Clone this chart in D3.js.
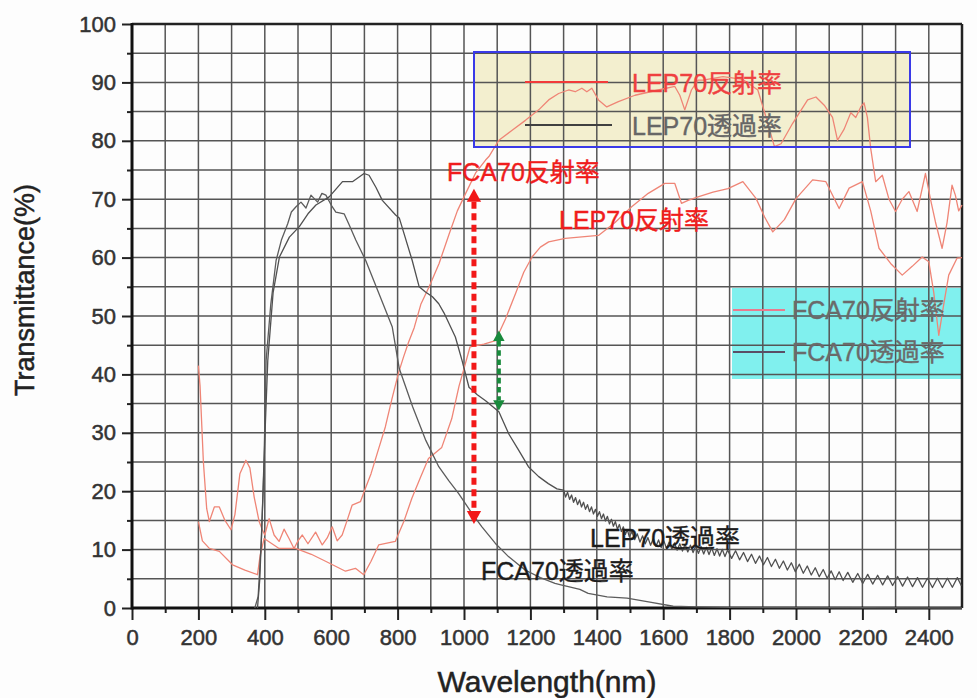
<!DOCTYPE html>
<html>
<head>
<meta charset="utf-8">
<script src="https://cdn.jsdelivr.net/npm/d3@7"></script>
<style>
  body { margin: 0; background: #fdfdfd; }
  svg text { font-family: "Liberation Sans", Arial, "Noto Sans CJK JP", sans-serif; }
</style>
</head>
<body>
<div id="chart"></div>
<script>
// tick labels
var xTickLabels = [0, 200, 400, 600, 800, 1000, 1200, 1400, 1600, 1800, 2000, 2200, 2400];
var yTickLabels = [0, 10, 20, 30, 40, 50, 60, 70, 80, 90, 100];

// series names
var seriesNames = ["LEP70反射率", "LEP70透過率", "FCA70反射率", "FCA70透過率"];

// FCA70 reflectance [nm, %]
var fcaRefl = [[200,41.5],[205,38],[215,25],[225,17],[233,14.8],[248,17.3],[263,17.3],[280,15],[298,13.4],[310,16],
  [325,23],[343,25.3],[355,24],[368,19],[383,14.8],[392,13.5],[400,12.5],[413,15.3],[428,12.5],[443,11.4],
  [458,13.5],[473,11.9],[488,10.2],[500,11.5],[513,12.5],[530,11],[553,13],[573,10.8],[588,12],[603,13.9],
  [618,11.5],[633,12.5],[648,15],[663,17.6],[688,18.2],[703,20.5],[720,23],[743,27.3],[763,31],[783,35.8],
  [803,40.3],[818,43],[833,45.5],[850,48],[870,52],[895,55],[925,59],[955,64],[980,68],[1005,71],
  [1035,74.5],[1065,76.7],[1075,77.3],[1105,80.1],[1145,81.8],[1185,83.5],[1225,85.3],[1255,87],[1285,88.1],[1315,88.7],
  [1335,88.4],[1355,89],[1370,88.4],[1385,89],[1405,87],[1430,85.8],[1465,86.7],[1515,87.8],[1585,88.7],[1635,89.3],
  [1650,87.8],[1665,85.3],[1685,88.7],[1705,90.4],[1720,90.4],[1780,91],[1840,90.5],[1885,88.7],[1910,84],[1935,79],
  [1955,79.5],[1990,83],[2035,87],[2060,87.5],[2085,86.1],[2110,84],[2125,80.1],[2145,82],[2165,84.8],[2180,84],
  [2195,85.8],[2205,86.5],[2215,84],[2225,78.7],[2240,73],[2260,74.1],[2280,70],[2300,67.9],[2320,70],[2340,71.3],
  [2365,67.9],[2390,74.4],[2405,70],[2420,66.1],[2440,61.6],[2455,66],[2470,72.4],[2480,70.7],[2490,68],[2500,69]];

// LEP70 reflectance [nm, %]
var lepRefl = [[200,14.8],[212,11.5],[233,10.2],[263,9.7],[303,7.4],[340,6.5],[378,5.7],[386,9],[398,11.9],[443,10.2],
  [493,10.2],[540,9.2],[583,8],[643,6.3],[673,6.8],[698,5.7],[720,8],[743,10.8],[793,11.4],[820,15],
  [843,18.8],[870,22.5],[893,25.6],[933,27.5],[963,32.4],[985,38],[1000,41],[1018,44.7],[1060,45.2],[1095,45.8],
  [1125,49.5],[1155,53.8],[1180,57.5],[1205,60.1],[1230,61.8],[1255,62.7],[1305,63.3],[1405,63.8],[1455,66],[1505,68.7],
  [1555,71],[1605,72.7],[1635,72.7],[1655,69.3],[1675,69.8],[1705,70.4],[1750,71.2],[1795,71.8],[1840,73],[1880,70.1],
  [1905,67],[1930,64.4],[1965,66.5],[2000,70.1],[2050,73.3],[2090,73],[2130,68.4],[2160,71.9],[2200,73],[2225,68],
  [2250,61.6],[2285,59],[2320,57],[2350,58.5],[2380,60.1],[2400,59.3],[2415,54],[2430,46.7],[2445,52],[2460,57],
  [2485,59.9],[2500,60]];

// FCA70 transmittance [nm, %]
var fcaTrans = [[370,0],[380,2],[390,12],[398,26],[404,42.4],[418,52],[434,59.5],[450,63],[469,65.8],[480,67.8],
  [494,68.7],[509,69.5],[524,68.5],[539,70.7],[559,69.5],[572,71],[584,70.7],[600,69],[614,67.8],[639,67.5],
  [655,65.5],[674,63],[704,59.5],[744,53.8],[784,48.1],[805,41],[845,34.5],[885,28.7],[924,24.2],[954,21.8],
  [984,19.6],[1024,16.2],[1054,13.9],[1094,11.1],[1134,8.8],[1184,6.5],[1230,5.2],[1274,4.2],[1289,4],[1349,3.2],
  [1374,2.5],[1431,1.9],[1491,1.7],[1560,1],[1630,0.3],[1700,0.2],[1800,0.1],[2500,0]];

// LEP70 transmittance [nm, %] (fringes)
var lepTrans = [[378,0],[385,5],[395,20],[402,32],[409,42.4],[425,54],[444,60.1],[474,63.5],[504,65.3],[530,67.5],
  [554,69],[594,70.4],[634,73],[664,73],[699,74.4],[714,74.1],[735,72],[754,69.8],[794,67.3],[805,66.8],
  [844,59.5],[865,55],[884,54.1],[905,53.3],[924,52.1],[940,50.5],[974,46.4],[994,42.4],[1015,37.8],[1040,36.5],
  [1065,35.5],[1105,33.6],[1135,29.8],[1165,27],[1194,24.2],[1225,22.5],[1254,21.3],[1280,20.4],
  [1300,20.2],[1306,19.0],[1312,19.8],[1318,18.6],[1324,19.35],[1330,18.1],[1336,18.9],[1342,17.7],[1348,18.5],[1354,17.3],
  [1360,18.1],[1366,16.9],[1372,17.7],[1378,16.5],[1384,17.3],[1390,16.1],[1396,16.9],[1402,15.7],[1408,16.5],[1414,15.3],
  [1420,16.1],[1426,14.9],[1432,15.7],[1438,14.4],[1444,15.2],[1450,14.0],[1456,14.8],[1462,13.5],[1468,14.3],[1474,13.1],
  [1480,13.9],[1486,12.6],[1492,13.4],[1498,12.2],[1506,13.05],[1514,11.7],[1522,12.7],[1530,11.3],[1538,12.35],[1546,11.0],
  [1554,12.05],[1562,10.75],[1570,11.85],[1578,10.55],[1586,11.65],[1594,10.35],[1602,11.5],[1610,10.2],[1618,11.3],[1626,10.05],
  [1634,11.15],[1642,9.9],[1650,11.0],[1658,9.75],[1666,10.9],[1674,9.6],[1682,10.75],[1690,9.5],[1698,10.6],[1706,9.35],
  [1714,10.5],[1722,9.25],[1730,10.4],[1738,9.15],[1746,10.3],[1754,9.0],[1762,10.15],[1770,8.9],[1778,10.05],[1786,8.8],
  [1794,9.95],[1806,8.5],[1818,9.8],[1830,8.25],[1842,9.5],[1854,7.95],[1866,9.2],[1878,7.65],[1890,8.9],[1902,7.4],
  [1914,8.65],[1926,7.1],[1938,8.35],[1950,6.8],[1962,8.05],[1974,6.5],[1986,7.75],[1998,6.2],[2010,7.5],[2022,5.95],
  [2034,7.2],[2046,5.65],[2058,6.9],[2070,5.35],[2082,6.6],[2094,5.1],[2106,6.35],[2118,4.85],[2130,6.2],[2142,4.7],
  [2156,6.1],[2171,4.4],[2186,5.9],[2201,4.2],[2216,5.75],[2231,4.1],[2246,5.6],[2261,3.95],[2276,5.5],[2291,3.85],
  [2306,5.4],[2321,3.75],[2336,5.3],[2351,3.65],[2366,5.2],[2381,3.55],[2396,5.1],[2411,3.5],[2426,5.1],[2441,3.5],
  [2456,5.1],[2471,3.55],[2486,5.2],[2498,3.8]];

// annotation arrows [nm, from %, to %]
var redArrow = [1030, 71.8, 14.4];
var greenArrow = [1105, 47.5, 33.8];

var width = 977;
var height = 698;

var svg = d3.select("#chart")
    .append("svg")
    .attr("width", width)
    .attr("height", height);

var x = d3.scaleLinear().domain([0, 2500]).range([132, 962]);
var y = d3.scaleLinear().domain([0, 100]).range([608, 24]);

// legend backgrounds sit under the grid
svg.append("rect").attr("x", 474).attr("y", 52).attr("width", 436).attr("height", 95)
    .attr("fill", "#f3efcf");
svg.append("rect").attr("x", 732).attr("y", 288).attr("width", 231).attr("height", 91)
    .attr("fill", "#80f0ee");

// grid
var vGrid = d3.range(100, 2500, 100);
var hGrid = d3.range(5, 100, 5);
svg.append("g").selectAll("line").data(vGrid).enter().append("line")
    .attr("x1", d => x(d)).attr("x2", d => x(d))
    .attr("y1", y(0)).attr("y2", y(100))
    .attr("stroke", "#555").attr("stroke-width", 1.5);
svg.append("g").selectAll("line").data(hGrid).enter().append("line")
    .attr("x1", x(0)).attr("x2", x(2500))
    .attr("y1", d => y(d)).attr("y2", d => y(d))
    .attr("stroke", "#555").attr("stroke-width", 1.5);

// axes
var xAxis = svg.append("g")
    .attr("transform", "translate(0," + y(0) + ")")
    .call(d3.axisBottom(x).tickValues(xTickLabels).tickSize(12).tickPadding(9).tickFormat(d3.format("d")));
var xMinor = svg.append("g")
    .attr("transform", "translate(0," + y(0) + ")")
    .call(d3.axisBottom(x).tickValues(vGrid.filter(d => d % 200 !== 0)).tickSize(5).tickFormat(""));
var yAxis = svg.append("g")
    .attr("transform", "translate(" + x(0) + ",0)")
    .call(d3.axisLeft(y).tickValues(yTickLabels).tickSize(10).tickPadding(6));
var yMinor = svg.append("g")
    .attr("transform", "translate(" + x(0) + ",0)")
    .call(d3.axisLeft(y).tickValues(hGrid.filter(d => d % 10 !== 0)).tickSize(5).tickFormat(""));

[xAxis, xMinor, yAxis, yMinor].forEach(function(g) {
    g.select(".domain").remove();
    g.selectAll(".tick line").attr("stroke", "#222").attr("stroke-width", 2);
    g.selectAll(".tick text")
        .attr("fill", "#333")
        .attr("stroke", "#333")
        .attr("stroke-width", 0.5)
        .style("font-size", "22px")
        .style("font-family", "Liberation Sans, Arial, sans-serif");
});

// frame
svg.append("line").attr("x1", x(0)).attr("x2", x(2500)).attr("y1", y(100)).attr("y2", y(100))
    .attr("stroke", "#222").attr("stroke-width", 2.5);
svg.append("line").attr("x1", x(2500)).attr("x2", x(2500)).attr("y1", y(100)).attr("y2", y(0))
    .attr("stroke", "#222").attr("stroke-width", 2.5);
svg.append("line").attr("x1", x(0)).attr("x2", x(2500)).attr("y1", y(0)).attr("y2", y(0))
    .attr("stroke", "#111").attr("stroke-width", 3);
svg.append("line").attr("x1", x(0)).attr("x2", x(0)).attr("y1", y(100) - 1).attr("y2", y(0) + 1.5)
    .attr("stroke", "#111").attr("stroke-width", 3);

// curves
var line = d3.line()
    .x(d => x(d[0]))
    .y(d => y(d[1]));

var curves = [
    { data: fcaRefl, color: "#ef8576" },
    { data: lepRefl, color: "#ef8576" },
    { data: fcaTrans, color: "#5c5c5c" },
    { data: lepTrans, color: "#505050" }
];

svg.selectAll(".curve")
    .data(curves)
    .enter()
    .append("path")
    .attr("class", "curve")
    .attr("d", d => line(d.data))
    .attr("fill", "none")
    .attr("stroke", d => d.color)
    .attr("stroke-width", 1.3)
    .attr("stroke-linejoin", "round");

// dotted double arrows
function doubleArrow(a, color, w) {
    var ax = x(a[0]);
    var top = y(a[1]);
    var bot = y(a[2]);
    var head = w * 2.6;
    svg.append("line")
        .attr("x1", ax).attr("x2", ax)
        .attr("y1", top + head).attr("y2", bot - head)
        .attr("stroke", color).attr("stroke-width", w)
        .attr("stroke-dasharray", (w * 1.4) + "," + (w * 0.9));
    svg.append("path")
        .attr("d", "M" + ax + "," + top + "L" + (ax - head * 0.55) + "," + (top + head) + "L" + (ax + head * 0.55) + "," + (top + head) + "Z")
        .attr("fill", color);
    svg.append("path")
        .attr("d", "M" + ax + "," + bot + "L" + (ax - head * 0.55) + "," + (bot - head) + "L" + (ax + head * 0.55) + "," + (bot - head) + "Z")
        .attr("fill", color);
}
doubleArrow(redArrow, "#f21818", 5);
doubleArrow(greenArrow, "#198a3c", 4);

// curve labels
function label(txt, px, py, color, size) {
    svg.append("text")
        .attr("x", px).attr("y", py)
        .attr("fill", color)
        .attr("stroke", color)
        .attr("stroke-width", 0.4)
        .style("font-size", size + "px")
        .text(txt);
}
label(seriesNames[2], 447, 181, "#f01c1c", 25);
label(seriesNames[0], 559, 229, "#f01c1c", 25);
label(seriesNames[1], 590, 547, "#1c1c1c", 25);
label(seriesNames[3], 481, 580, "#1c1c1c", 25);

// legend 1
svg.append("rect").attr("x", 474).attr("y", 52).attr("width", 436).attr("height", 95)
    .attr("fill", "none").attr("stroke", "#3a3ae8").attr("stroke-width", 2);
svg.append("line").attr("x1", 525).attr("x2", 608).attr("y1", 82).attr("y2", 82)
    .attr("stroke", "#f23a3a").attr("stroke-width", 2.2);
svg.append("line").attr("x1", 525).attr("x2", 612).attr("y1", 125).attr("y2", 125)
    .attr("stroke", "#404040").attr("stroke-width", 2.2);
label(seriesNames[0], 632, 92, "#ef4040", 25);
label(seriesNames[1], 632, 135, "#666666", 25);

// legend 2
svg.append("line").attr("x1", 733).attr("x2", 785).attr("y1", 310).attr("y2", 310)
    .attr("stroke", "#ea7a8e").attr("stroke-width", 2);
svg.append("line").attr("x1", 733).attr("x2", 785).attr("y1", 352).attr("y2", 352)
    .attr("stroke", "#5a4e66").attr("stroke-width", 2);
label(seriesNames[2], 792, 319, "#6a6a6a", 25);
label(seriesNames[3], 792, 361, "#6a6a6a", 25);

// axis titles
svg.append("text")
    .attr("transform", "translate(34,290) rotate(-90)")
    .attr("text-anchor", "middle")
    .attr("fill", "#222")
    .attr("stroke", "#222")
    .attr("stroke-width", 0.5)
    .style("font-size", "27px")
    .text("Transmittance(%)");

svg.append("text")
    .attr("x", 547).attr("y", 692)
    .attr("text-anchor", "middle")
    .attr("fill", "#222")
    .attr("stroke", "#222")
    .attr("stroke-width", 0.5)
    .style("font-size", "30px")
    .text("Wavelength(nm)");
</script>
</body>
</html>
